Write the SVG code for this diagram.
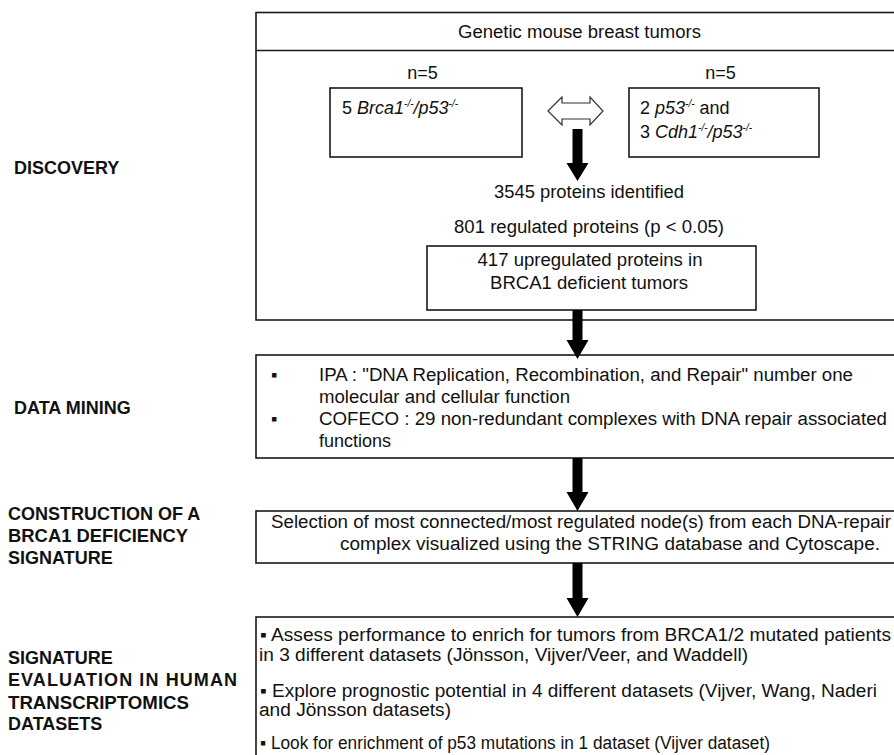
<svg xmlns="http://www.w3.org/2000/svg" width="894" height="755" viewBox="0 0 894 755">
<style>
.box{fill:#fff;stroke:#1a1a1a;stroke-width:1.6}
.t{font-family:"Liberation Sans",Arial,sans-serif;font-size:18px;fill:#111}
.c{text-anchor:middle}
.i{font-style:italic}
.sup{font-size:10px;font-style:italic}
.lab{font-family:"Liberation Sans",Arial,sans-serif;font-size:18px;font-weight:bold;fill:#111}
.arr{fill:#000}
.dbl{fill:#fff;stroke:#333;stroke-width:1.2}
</style>
<rect width="894" height="755" fill="#fff"/>

<g id="labels">
<text class="lab" x="14" y="173.5">DISCOVERY</text>
<text class="lab" x="14" y="413.5">DATA MINING</text>
<text class="lab" x="8" y="519.5">CONSTRUCTION OF A</text>
<text class="lab" x="8" y="541.5" textLength="180" lengthAdjust="spacingAndGlyphs">BRCA1 DEFICIENCY</text>
<text class="lab" x="8" y="563.5">SIGNATURE</text>
<text class="lab" x="8" y="663.5">SIGNATURE</text>
<text class="lab" x="8" y="685.5" textLength="229" lengthAdjust="spacing">EVALUATION IN HUMAN</text>
<text class="lab" x="8" y="708.5" textLength="181" lengthAdjust="spacingAndGlyphs">TRANSCRIPTOMICS</text>
<text class="lab" x="8" y="729.5">DATASETS</text>
</g>

<g id="discovery">
<rect class="box" x="256" y="12.5" width="650" height="307.5"/>
<line x1="256" y1="50.5" x2="900" y2="50.5" stroke="#1a1a1a" stroke-width="1.6"/>
<text class="t c" x="579.5" y="38" textLength="243" lengthAdjust="spacingAndGlyphs">Genetic mouse breast tumors</text>
</g>

<g id="group-brca1">
<text class="t c" x="422.5" y="79">n=5</text>
<rect class="box" x="330" y="88" width="192" height="69"/>
<text class="t" x="342" y="114">5 <tspan class="i">Brca1</tspan><tspan class="sup" dy="-7">-/-</tspan><tspan class="i" dy="7">/p53</tspan><tspan class="sup" dy="-7">-/-</tspan></text>
</g>

<g id="group-control">
<text class="t c" x="720.5" y="79">n=5</text>
<rect class="box" x="629" y="88" width="190" height="69"/>
<text class="t" x="640" y="114">2 <tspan class="i">p53</tspan><tspan class="sup" dy="-7">-/-</tspan><tspan dy="7"> and</tspan></text>
<text class="t" x="640" y="138">3 <tspan class="i">Cdh1</tspan><tspan class="sup" dy="-7">-/-</tspan><tspan class="i" dy="7">/p53</tspan><tspan class="sup" dy="-7">-/-</tspan></text>
</g>

<g id="proteins">
<text class="t c" x="589" y="198" textLength="190" lengthAdjust="spacingAndGlyphs">3545 proteins identified</text>
<text class="t c" x="589" y="233" textLength="270" lengthAdjust="spacingAndGlyphs">801 regulated proteins (p &lt; 0.05)</text>
</g>

<g id="upregulated">
<rect class="box" x="427" y="246" width="329" height="64"/>
<text class="t c" x="590" y="266" textLength="225" lengthAdjust="spacingAndGlyphs">417 upregulated proteins in</text>
<text class="t c" x="589" y="289" textLength="198" lengthAdjust="spacingAndGlyphs">BRCA1 deficient tumors</text>
</g>

<g id="data-mining">
<rect class="box" x="256" y="355" width="650" height="103"/>
<text class="t" x="271" y="381" font-size="11">▪</text>
<text class="t" x="319" y="381" textLength="534" lengthAdjust="spacingAndGlyphs">IPA : "DNA Replication, Recombination, and Repair" number one</text>
<text class="t" x="319" y="402.5" textLength="251" lengthAdjust="spacingAndGlyphs">molecular and cellular function</text>
<text class="t" x="271" y="424.5" font-size="11">▪</text>
<text class="t" x="319" y="424.5" textLength="568" lengthAdjust="spacingAndGlyphs">COFECO : 29 non-redundant complexes with DNA repair associated</text>
<text class="t" x="319" y="447">functions</text>
</g>

<g id="construction">
<rect class="box" x="256" y="511" width="650" height="52"/>
<text class="t" x="271" y="528" textLength="620" lengthAdjust="spacingAndGlyphs">Selection of most connected/most regulated node(s) from each DNA-repair</text>
<text class="t" x="340" y="550" textLength="540" lengthAdjust="spacingAndGlyphs">complex visualized using the STRING database and Cytoscape.</text>
</g>

<g id="evaluation">
<rect class="box" x="256" y="617" width="650" height="150"/>
<text class="t" x="260" y="641" textLength="631" lengthAdjust="spacingAndGlyphs">▪ Assess performance to enrich for tumors from BRCA1/2 mutated patients</text>
<text class="t" x="259" y="661" textLength="489" lengthAdjust="spacingAndGlyphs">in 3 different datasets (Jönsson, Vijver/Veer, and Waddell)</text>
<text class="t" x="260" y="697" textLength="617" lengthAdjust="spacingAndGlyphs">▪ Explore prognostic potential in 4 different datasets (Vijver, Wang, Naderi</text>
<text class="t" x="259" y="716" textLength="192" lengthAdjust="spacingAndGlyphs">and Jönsson datasets)</text>
<text class="t" x="260" y="749" textLength="510" lengthAdjust="spacingAndGlyphs">▪ Look for enrichment of p53 mutations in 1 dataset (Vijver dataset)</text>
</g>

<g id="connectors">
<polygon class="dbl" points="548,111 562,97 562,103 590,103 590,97 603,111 590,125 590,119 562,119 562,125"/>
<polygon class="arr" points="572.5,129 582.5,129 582.5,163 588.5,163 577.5,181 566.5,163 572.5,163"/>
<polygon class="arr" points="572.5,310 582.5,310 582.5,340 588.5,340 577.5,359 566.5,340 572.5,340"/>
<polygon class="arr" points="572.5,458 582.5,458 582.5,492 588.5,492 577.5,511 566.5,492 572.5,492"/>
<polygon class="arr" points="572.5,563 582.5,563 582.5,598 588.5,598 577.5,617 566.5,598 572.5,598"/>
</g>
</svg>
